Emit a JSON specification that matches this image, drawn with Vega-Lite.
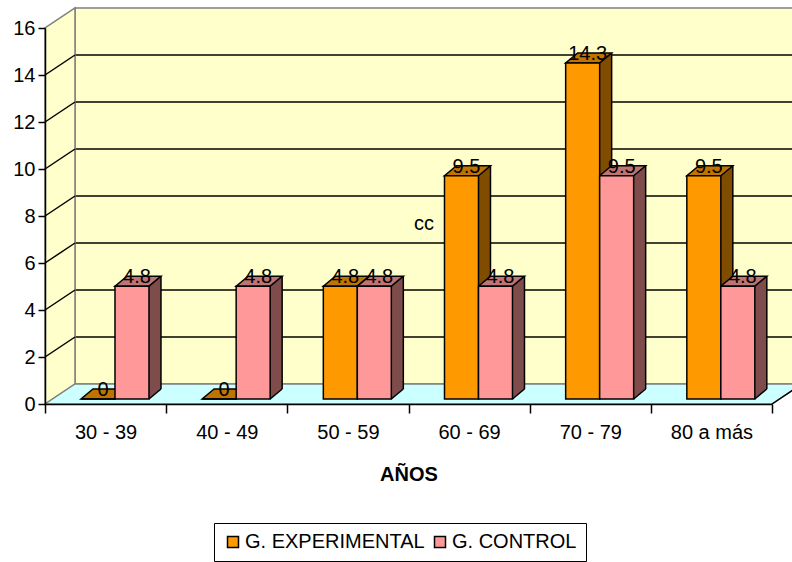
{
  "$schema": "https://vega.github.io/schema/vega-lite/v6.json",
  "autosize": {"type": "none"},
  "padding": {"left": 45, "top": 28, "right": 20, "bottom": 158},
  "width": 727,
  "height": 376,
  "background": "white",
  "config": {"font": "Liberation Sans", "view": {"stroke": null}},
  "datasets": {
    "edades": [
      {"edad": "30 - 39", "grupo": "G. EXPERIMENTAL", "pct": 0},
      {"edad": "30 - 39", "grupo": "G. CONTROL", "pct": 4.8},
      {"edad": "40 - 49", "grupo": "G. EXPERIMENTAL", "pct": 0},
      {"edad": "40 - 49", "grupo": "G. CONTROL", "pct": 4.8},
      {"edad": "50 - 59", "grupo": "G. EXPERIMENTAL", "pct": 4.8},
      {"edad": "50 - 59", "grupo": "G. CONTROL", "pct": 4.8},
      {"edad": "60 - 69", "grupo": "G. EXPERIMENTAL", "pct": 9.5},
      {"edad": "60 - 69", "grupo": "G. CONTROL", "pct": 4.8},
      {"edad": "70 - 79", "grupo": "G. EXPERIMENTAL", "pct": 14.3},
      {"edad": "70 - 79", "grupo": "G. CONTROL", "pct": 9.5},
      {"edad": "80 a más", "grupo": "G. EXPERIMENTAL", "pct": 9.5},
      {"edad": "80 a más", "grupo": "G. CONTROL", "pct": 4.8}
    ],
    "lineas": [{"v": 2}, {"v": 4}, {"v": 6}, {"v": 8}, {"v": 10}, {"v": 12}, {"v": 14}]
  },
  "layer": [
    {
      "description": "back wall",
      "data": {"values": [{}]},
      "mark": {"type": "rect", "fill": "#FFFFCC", "stroke": "#808080", "strokeWidth": 1.5,
               "xOffset": 30, "x2Offset": 30, "yOffset": -20, "y2Offset": -20},
      "encoding": {
        "x": {"value": 0}, "x2": {"value": "width"},
        "y": {"datum": 16, "type": "quantitative", "axis": {"title": null}}, "y2": {"datum": 0}
      }
    },
    {
      "description": "back wall grid lines",
      "data": {"name": "lineas"},
      "mark": {"type": "rule", "stroke": "black", "strokeWidth": 1.5,
               "xOffset": 30, "x2Offset": 30, "yOffset": -20},
      "encoding": {
        "x": {"value": 0}, "x2": {"value": "width"},
        "y": {"field": "v", "type": "quantitative", "axis": {"title": null}}
      }
    },
    {
      "description": "side wall",
      "data": {"values": [{}]},
      "mark": {"type": "point", "shape": "M0,0 L0,-3.76 L0.3,-3.96 L0.3,-0.2 Z", "size": 40000,
               "filled": true, "fill": "#FFFFCC", "stroke": "#808080", "strokeWidth": 1.5, "opacity": 1},
      "encoding": {"x": {"value": 0}, "y": {"datum": 0, "type": "quantitative", "axis": {"title": null}}}
    },
    {
      "description": "side wall grid lines",
      "data": {"name": "lineas"},
      "mark": {"type": "rule", "stroke": "black", "strokeWidth": 1.5, "x2Offset": 30, "y2Offset": -20},
      "encoding": {
        "x": {"value": 0}, "x2": {"value": 0},
        "y": {"field": "v", "type": "quantitative", "axis": {"title": null}}, "y2": {"field": "v"}
      }
    },
    {
      "description": "floor",
      "data": {"values": [{}]},
      "mark": {"type": "point", "shape": "M0,0 L0.3,-0.2 L7.57,-0.2 L7.27,0 Z", "size": 40000,
               "filled": true, "fill": "#CCFFFF", "stroke": "#808080", "strokeWidth": 1.5, "opacity": 1},
      "encoding": {"x": {"value": 0}, "y": {"datum": 0, "type": "quantitative", "axis": {"title": null}}}
    },
    {
      "description": "floor right edge",
      "data": {"values": [{}]},
      "mark": {"type": "rule", "stroke": "black", "strokeWidth": 1.5, "x2Offset": 30, "y2Offset": -20},
      "encoding": {
        "x": {"value": "width"}, "x2": {"value": "width"},
        "y": {"datum": 0, "type": "quantitative", "axis": {"title": null}}, "y2": {"datum": 0}
      }
    },
    {
      "data": {"name": "edades"},
      "encoding": {
        "x": {
          "field": "edad", "type": "nominal", "sort": null,
          "scale": {"paddingInner": 0, "paddingOuter": 0},
          "axis": {
            "title": "AÑOS", "titleFontSize": 20, "titleFontWeight": "bold", "titleColor": "black",
            "titlePadding": 22,
            "labelFontSize": 20, "labelColor": "black", "labelAngle": 0, "labelPadding": 9,
            "tickBand": "extent", "tickSize": 9, "tickColor": "black", "tickWidth": 1.5,
            "domainColor": "black", "domainWidth": 1.5, "zindex": 1
          }
        },
        "y": {
          "field": "pct", "type": "quantitative",
          "scale": {"domain": [0, 16], "nice": false},
          "axis": {
            "title": null, "values": [0, 2, 4, 6, 8, 10, 12, 14, 16], "grid": false,
            "labelFontSize": 20, "labelColor": "black", "labelPadding": 3,
            "tickSize": 7, "tickColor": "black", "tickWidth": 1.5,
            "domainColor": "black", "domainWidth": 1.5, "zindex": 1
          }
        }
      },
      "layer": [
        {
          "description": "side faces, experimental group (bars sit 7.6 px left of the band centre)",
          "transform": [{"filter": "datum.grupo === 'G. EXPERIMENTAL'"}],
          "layer": [
            {
              "mark": {"type": "rule", "stroke": "#7F4C00", "strokeWidth": 12, "strokeCap": "butt", "xOffset": 15.4, "yOffset": -15, "y2Offset": -15},
              "encoding": {"y2": {"datum": 0}}
            },
            {
              "mark": {"type": "point", "shape": "M1.7,-1 L1.7,0 L2.9,-1 Z", "size": 400, "filled": true, "fill": "#7F4C00", "opacity": 1, "xOffset": -7.6, "yOffset": -5},
              "encoding": {"y": {"datum": 0}}
            },
            {
              "mark": {"type": "rule", "stroke": "black", "strokeWidth": 1.5, "xOffset": 21.4, "yOffset": -15, "y2Offset": -15},
              "encoding": {"y2": {"datum": 0}}
            },
            {
              "mark": {"type": "point", "shape": "M1.7,0 L2.9,-1", "size": 400, "filled": false, "stroke": "black", "strokeWidth": 1.5, "opacity": 1, "xOffset": -7.6, "yOffset": -5},
              "encoding": {"y": {"datum": 0}}
            }
          ]
        },
        {
          "description": "side faces, control group (bars sit 26.4 px right of the band centre)",
          "transform": [{"filter": "datum.grupo === 'G. CONTROL'"}],
          "layer": [
            {
              "mark": {"type": "rule", "stroke": "#7F4C4C", "strokeWidth": 12, "strokeCap": "butt", "xOffset": 49.4, "yOffset": -15, "y2Offset": -15},
              "encoding": {"y2": {"datum": 0}}
            },
            {
              "mark": {"type": "point", "shape": "M1.7,-1 L1.7,0 L2.9,-1 Z", "size": 400, "filled": true, "fill": "#7F4C4C", "opacity": 1, "xOffset": 26.4, "yOffset": -5},
              "encoding": {"y": {"datum": 0}}
            },
            {
              "mark": {"type": "rule", "stroke": "black", "strokeWidth": 1.5, "xOffset": 55.4, "yOffset": -15, "y2Offset": -15},
              "encoding": {"y2": {"datum": 0}}
            },
            {
              "mark": {"type": "point", "shape": "M1.7,0 L2.9,-1", "size": 400, "filled": false, "stroke": "black", "strokeWidth": 1.5, "opacity": 1, "xOffset": 26.4, "yOffset": -5},
              "encoding": {"y": {"datum": 0}}
            }
          ]
        },
        {
          "description": "bar top faces",
          "mark": {"type": "point", "shape": "M-1.7,0 L1.7,0 L2.9,-1 L-0.5,-1 Z", "size": 400, "filled": true, "stroke": "black", "strokeWidth": 1.5, "opacity": 1, "yOffset": -5},
          "encoding": {
            "xOffset": {
              "field": "grupo", "type": "nominal",
              "scale": {"domain": ["G. EXPERIMENTAL", "G. CONTROL"], "paddingInner": 0, "paddingOuter": 0.782, "align": 0.677}
            },
            "fill": {"condition": {"test": "datum.grupo === 'G. CONTROL'", "value": "#BF7373"}, "value": "#BF7300"}
          }
        },
        {
          "description": "bar front faces",
          "mark": {"type": "bar", "stroke": "black", "strokeWidth": 1.5, "yOffset": -5, "y2Offset": -5},
          "encoding": {
            "xOffset": {
              "field": "grupo", "type": "nominal",
              "scale": {"domain": ["G. EXPERIMENTAL", "G. CONTROL"], "paddingInner": 0, "paddingOuter": 0.782, "align": 0.677}
            },
            "y2": {"datum": 0},
            "fill": {
              "field": "grupo", "type": "nominal",
              "scale": {"domain": ["G. EXPERIMENTAL", "G. CONTROL"], "range": ["#FF9900", "#FF9999"]},
              "legend": {
                "orient": "none", "legendX": 169, "legendY": 495, "direction": "horizontal", "title": null,
                "symbolType": "square", "symbolSize": 121, "symbolStrokeColor": "black", "symbolStrokeWidth": 1.5,
                "labelFontSize": 20, "labelColor": "black", "labelLimit": 400, "labelOffset": 2,
                "columnPadding": 5, "padding": 9, "strokeColor": "black", "fillColor": "white"
              }
            }
          }
        },
        {
          "description": "value labels",
          "mark": {"type": "text", "fontSize": 20, "color": "black", "align": "center", "baseline": "alphabetic", "dx": 5, "yOffset": -8},
          "encoding": {
            "xOffset": {
              "field": "grupo", "type": "nominal",
              "scale": {"domain": ["G. EXPERIMENTAL", "G. CONTROL"], "paddingInner": 0, "paddingOuter": 0.782, "align": 0.677}
            },
            "text": {"field": "pct", "type": "quantitative"}
          }
        }
      ]
    },
    {
      "description": "loose annotation",
      "data": {"values": [{"nota": "cc"}]},
      "mark": {"type": "text", "fontSize": 20, "color": "black", "align": "center", "baseline": "alphabetic", "dx": -45},
      "encoding": {
        "x": {"datum": "60 - 69", "type": "nominal"},
        "y": {"datum": 7.4, "type": "quantitative", "axis": {"title": null}},
        "text": {"field": "nota"}
      }
    }
  ]
}
